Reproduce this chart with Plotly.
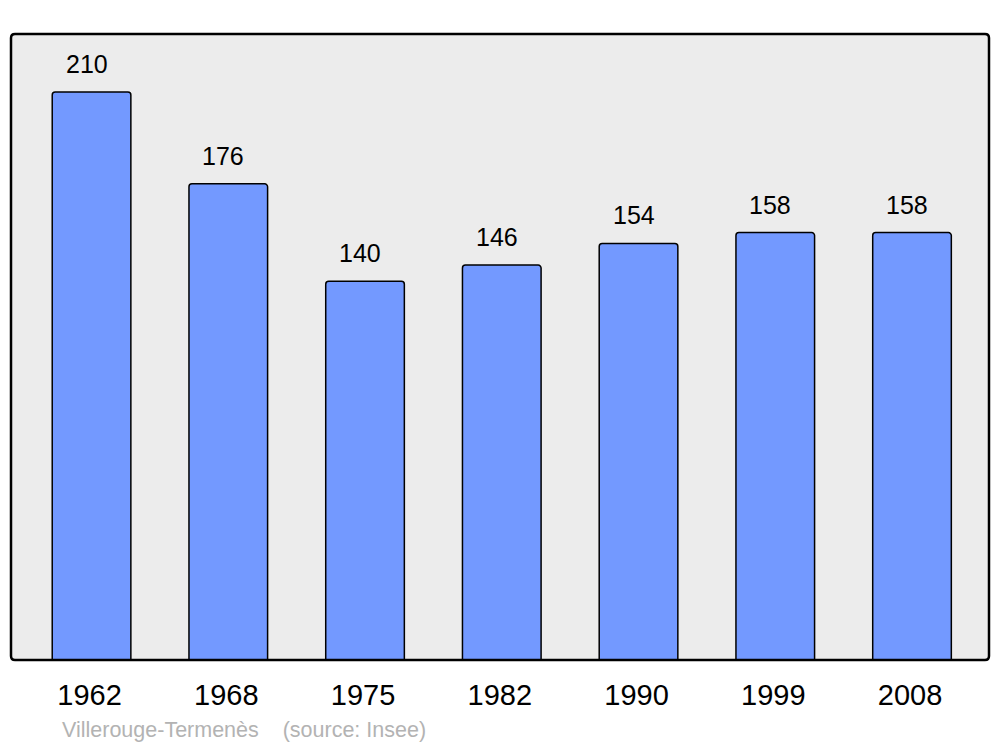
import plotly.graph_objects as go

years = ["1962", "1968", "1975", "1982", "1990", "1999", "2008"]
population = [210, 176, 140, 146, 154, 158, 158]
footer_text = "Villerouge-Termenès    (source: Insee)"

xs = list(range(len(years)))

fig = go.Figure()
fig.add_trace(go.Bar(
    x=xs, y=population, width=0.575,
    marker=dict(color="#7399FF", line=dict(color="#000000", width=1.5), cornerradius=3),
    hoverinfo="skip",
))

for x, v in zip(xs, population):
    fig.add_annotation(x=x, y=v, text=str(v), showarrow=False, yshift=28, xshift=-5,
                       yanchor="middle", font=dict(size=25, color="#000000"))

fig.add_annotation(xref="paper", yref="paper", x=0.050, y=-0.112, xanchor="left",
                   yanchor="middle", text=footer_text, showarrow=False,
                   font=dict(size=21.5, color="#B3B3B3"))

# rounded frame around plot area
rx, ry = 4 / 978, 4 / 626
path = (f"M {rx},0 L {1-rx},0 Q 1,0 1,{ry} L 1,{1-ry} Q 1,1 {1-rx},1 "
        f"L {rx},1 Q 0,1 0,{1-ry} L 0,{ry} Q 0,0 {rx},0 Z")
fig.add_shape(type="path", xref="paper", yref="paper", path=path,
              line=dict(color="#000000", width=2.5), layer="above")

fig.update_layout(
    width=992, height=739,
    margin=dict(l=3, r=11, t=26, b=87),
    paper_bgcolor="#FFFFFF", plot_bgcolor="#ECECEC",
    font=dict(family="Liberation Sans, Arial, sans-serif", color="#000000"),
    showlegend=False,
    xaxis=dict(range=[-0.589, 6.563], tickvals=xs, ticktext=years, showgrid=False,
               zeroline=False, ticks="outside", ticklen=9, tickcolor="rgba(0,0,0,0)",
               ticklabelshift=-2,
               tickfont=dict(size=29), fixedrange=True),
    yaxis=dict(range=[0, 231.4], showgrid=False, zeroline=False, showticklabels=False,
               fixedrange=True),
)

fig.write_html("out.html")
